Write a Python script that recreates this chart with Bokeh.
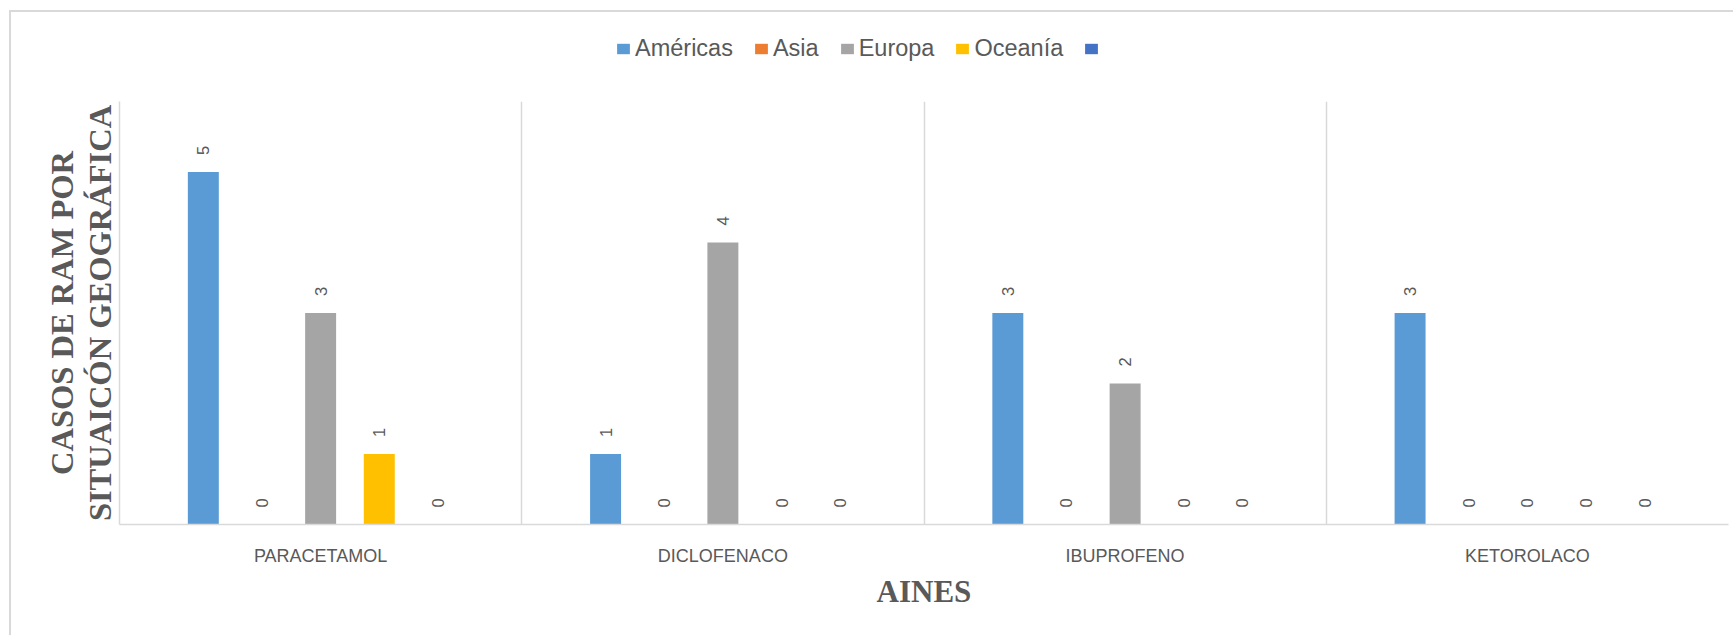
import math

from bokeh.plotting import figure
from bokeh.layouts import column
from bokeh.models import ColumnDataSource, FixedTicker, Legend, LegendItem
from bokeh.core.properties import value
from bokeh.embed import file_html
from bokeh.resources import INLINE

# Categories (AINES) and adverse-reaction counts per region
categories = ["PARACETAMOL", "DICLOFENACO", "IBUPROFENO", "KETOROLACO"]
series_names = ["Américas", "Asia", "Europa", "Oceanía", ""]
americas = [5, 1, 3, 3]
asia = [0, 0, 0, 0]
europa = [3, 4, 2, 0]
oceania = [1, 0, 0, 0]
sin_region = [0, 0, 0, 0]
series_colors = ["#5B9BD5", "#ED7D31", "#A5A5A5", "#FFC000", "#4472C4"]

TEXT = "#595959"
GRID = "#D9D9D9"

# ---- legend strip on top (its swatch glyphs sit outside the visible range) ----
leg = figure(
    width=1724, height=89, x_range=(0, 1), y_range=(1, 2),
    x_axis_type=None, y_axis_type=None,
    output_backend="svg", toolbar_location=None,
    min_border=0, outline_line_color=None,
)
leg.grid.visible = False

leg_items = []
for name, color in zip(series_names, series_colors):
    swatch = leg.vbar(x=[0.5], top=[0], bottom=0, width=0.1,
                      fill_color=color, line_color=None)
    leg_items.append(LegendItem(label=value(name), renderers=[swatch]))

legend = Legend(
    items=leg_items, orientation="horizontal", location=(496, 39),
    glyph_width=16, glyph_height=13, label_standoff=4, spacing=20,
    padding=0, margin=0, border_line_color=None, background_fill_alpha=0,
    label_text_font="Liberation Sans", label_text_font_size="23.5px",
    label_text_color=TEXT,
)
leg.add_layout(legend, "center")

# ---- clustered bar chart ----
p = figure(
    width=1724, height=536,
    x_range=(0.5, 4.5), y_range=(0, 6),
    output_backend="svg", toolbar_location=None,
    min_border_left=108, min_border_right=7,
    min_border_top=0, min_border_bottom=113,
    outline_line_color=None,
)

slot = 0.1458
bar_w = 0.077
all_series = [americas, asia, europa, oceania, sin_region]
for k, (vals, color) in enumerate(zip(all_series, series_colors)):
    xs = [i + 1 + (k - 2) * slot for i in range(len(categories))]
    src = ColumnDataSource(dict(x=xs, top=vals, label=[str(v) for v in vals]))
    p.vbar(x="x", top="top", bottom=0, width=bar_w, source=src,
           fill_color=color, line_color=None)
    p.text(x="x", y="top", text="label", source=src, angle=math.pi / 2,
           text_align="left", text_baseline="middle", y_offset=-17,
           text_font=value("Liberation Sans"), text_font_size="16.5px",
           text_color=TEXT)

# x axis: category names centred in each group
p.xaxis.ticker = FixedTicker(ticks=[1, 2, 3, 4])
p.xaxis.major_label_overrides = {i + 1: c for i, c in enumerate(categories)}
p.xaxis.major_tick_line_color = None
p.xaxis.minor_tick_line_color = None
p.xaxis.axis_line_color = GRID
p.xaxis.axis_line_width = 1.5
p.xaxis.major_label_text_font = "Liberation Sans"
p.xaxis.major_label_text_font_size = "18px"
p.xaxis.major_label_text_color = TEXT
p.xaxis.major_label_standoff = 15
p.xaxis.axis_label = "AINES"
p.xaxis.axis_label_text_font = "Liberation Serif"
p.xaxis.axis_label_text_font_style = "bold"
p.xaxis.axis_label_text_font_size = "31px"
p.xaxis.axis_label_text_color = TEXT
p.xaxis.axis_label_standoff = 5

# vertical separators between groups
p.xgrid.ticker = FixedTicker(ticks=[0.5, 1.5, 2.5, 3.5, 4.5])
p.xgrid.grid_line_color = GRID
p.xgrid.grid_line_width = 1.5
p.ygrid.grid_line_color = None

# y axis: title only
p.yaxis.ticker = FixedTicker(ticks=[])
p.yaxis.major_tick_line_color = None
p.yaxis.minor_tick_line_color = None
p.yaxis.axis_line_color = GRID
p.yaxis.axis_line_width = 1.5
p.yaxis.major_label_text_font_size = "0px"
p.yaxis.major_label_standoff = 0
p.yaxis.axis_label = "CASOS DE RAM POR\nSITUAICÓN GEOGRÁFICA"
p.yaxis.axis_label_text_font = "Liberation Serif"
p.yaxis.axis_label_text_font_style = "bold"
p.yaxis.axis_label_text_font_size = "32.5px"
p.yaxis.axis_label_text_line_height = 1.05
p.yaxis.axis_label_text_color = TEXT
p.yaxis.axis_label_standoff = 2

page = column(leg, p, spacing=0, margin=(12, 0, 0, 11))
page.styles = {"box-shadow": "-2px -2px 0 0 #D9D9D9"}

open("out.html", "w").write(file_html(page, INLINE))
